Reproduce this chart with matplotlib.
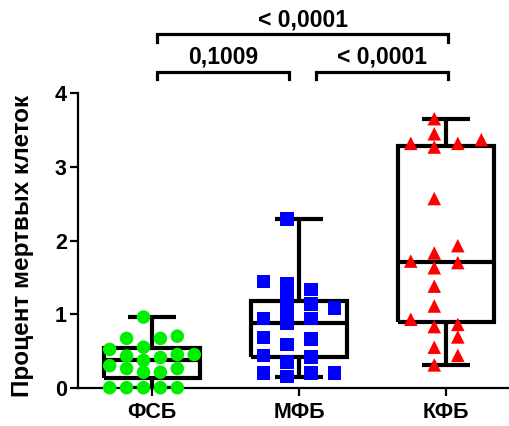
import numpy as np
import matplotlib
matplotlib.use("Agg")
import matplotlib.pyplot as plt

plt.rcParams['font.family'] = ['Liberation Sans', 'DejaVu Sans']
plt.rcParams['font.weight'] = 'bold'

# groups
groups = ["ФСБ", "МФБ", "КФБ"]
colors = ["#00ee00", "#0000ff", "#ff0000"]
markers = ["o", "s", "^"]

# percent of dead cells, one value per sample
fsb = [0.96, 0.67, 0.67, 0.70, 0.55, 0.52, 0.41, 0.43, 0.45, 0.45, 0.37,
       0.30, 0.26, 0.26, 0.21, 0.21, 0.0, 0.0, 0.0, 0.0, 0.0]
mfb = [2.29, 1.41, 1.23, 1.05, 0.87, 0.66, 0.20, 1.335, 1.08, 0.94, 0.68,
       0.42, 0.20, 1.135, 0.59, 0.35, 0.15, 1.44, 0.94, 0.44, 0.20]
kfb = [3.655, 3.45, 3.32, 3.32, 3.37, 3.27, 2.57, 1.83, 1.93, 1.72, 1.70,
       1.63, 1.38, 1.11, 0.93, 0.83, 0.86, 0.69, 0.55, 0.44, 0.31]
data = [fsb, mfb, kfb]

# box quartiles (q1, median, q3)
q1 = [0.13, 0.42, 0.895]
med = [0.38, 0.874, 1.71]
q3 = [0.54, 1.18, 3.28]

# p-values between groups
pairs = [(1, 2), (2, 3), (1, 3)]
pvals = ["0,1009", "< 0,0001", "< 0,0001"]


def swarm(vals, n_cols, step, gap):
    # put each point in the nearest free column slot
    vals = np.asarray(vals)
    slots = sorted([k - (n_cols - 1) / 2 for k in range(n_cols)],
                   key=lambda o: (abs(o), o))
    placed = {s: [] for s in slots}
    offs = np.zeros(len(vals))
    for i in np.argsort(vals, kind="stable"):
        v = vals[i]
        pick = None
        for s in slots:
            if all(abs(v - w) >= gap for w in placed[s]):
                pick = s
                break
        if pick is None:
            pick = max(slots, key=lambda s: min(abs(v - w) for w in placed[s]))
        placed[pick].append(v)
        offs[i] = pick * step
    return offs


fig = plt.figure(figsize=(5.1, 4.26), dpi=100)
ax = fig.add_axes([78 / 510, 38.3 / 426, 432 / 510, 294.4 / 426])

stats = []
for i, vals in enumerate(data):
    stats.append({"med": med[i], "q1": q1[i], "q3": q3[i],
                  "whislo": min(vals), "whishi": max(vals), "fliers": []})

lp = dict(color="black", linewidth=3, solid_joinstyle="miter", solid_capstyle="butt")
ax.bxp(stats, positions=[1, 2, 3], widths=0.65, capwidths=0.33,
       showfliers=False, boxprops=lp, medianprops=lp, whiskerprops=lp,
       capprops=lp, manage_ticks=False, zorder=2)

cols = [6, 4, 4]
steps = [0.115, 0.16, 0.16]
for i, vals in enumerate(data):
    x = (i + 1) + swarm(vals, cols[i], steps[i], 0.16)
    ax.scatter(x, vals, s=95, marker=markers[i], color=colors[i],
               edgecolors="none", zorder=3, clip_on=False)

ax.set_xlim(0.497, 3.435)
ax.set_ylim(0, 4)
ax.set_yticks([0, 1, 2, 3, 4])
ax.set_xticks([1, 2, 3])
ax.set_xticklabels(groups)
for s in ["top", "right"]:
    ax.spines[s].set_visible(False)
for s in ["left", "bottom"]:
    ax.spines[s].set_linewidth(1.6)
ax.tick_params(axis="both", width=1.6, length=6, labelsize=15.5)
ax.tick_params(axis="x", pad=4)
ax.tick_params(axis="y", pad=2)

fig.text(23 / 510, 1 - 246 / 426, "Процент мертвых клеток", rotation=90,
         ha="center", va="center", fontsize=17.5, fontweight="bold")

# significance brackets
levels = {(1, 2): 4.293, (2, 3): 4.293, (1, 3): 4.80}
for (a, b), p in zip(pairs, pvals):
    y = levels[(a, b)]
    lo = a + 0.034 + (0.082 if a == 2 else 0)
    hi = b + 0.014 - (0.082 if b == 2 else 0)
    ax.plot([lo, lo, hi, hi], [y - 0.1, y, y, y - 0.1], color="black",
            lw=2.3, clip_on=False, solid_joinstyle="miter")
    ax.text((lo + hi) / 2, y + 0.11, p, ha="center", va="baseline",
            fontsize=16.5, fontweight="bold")

fig.savefig("out.png", dpi=100)
